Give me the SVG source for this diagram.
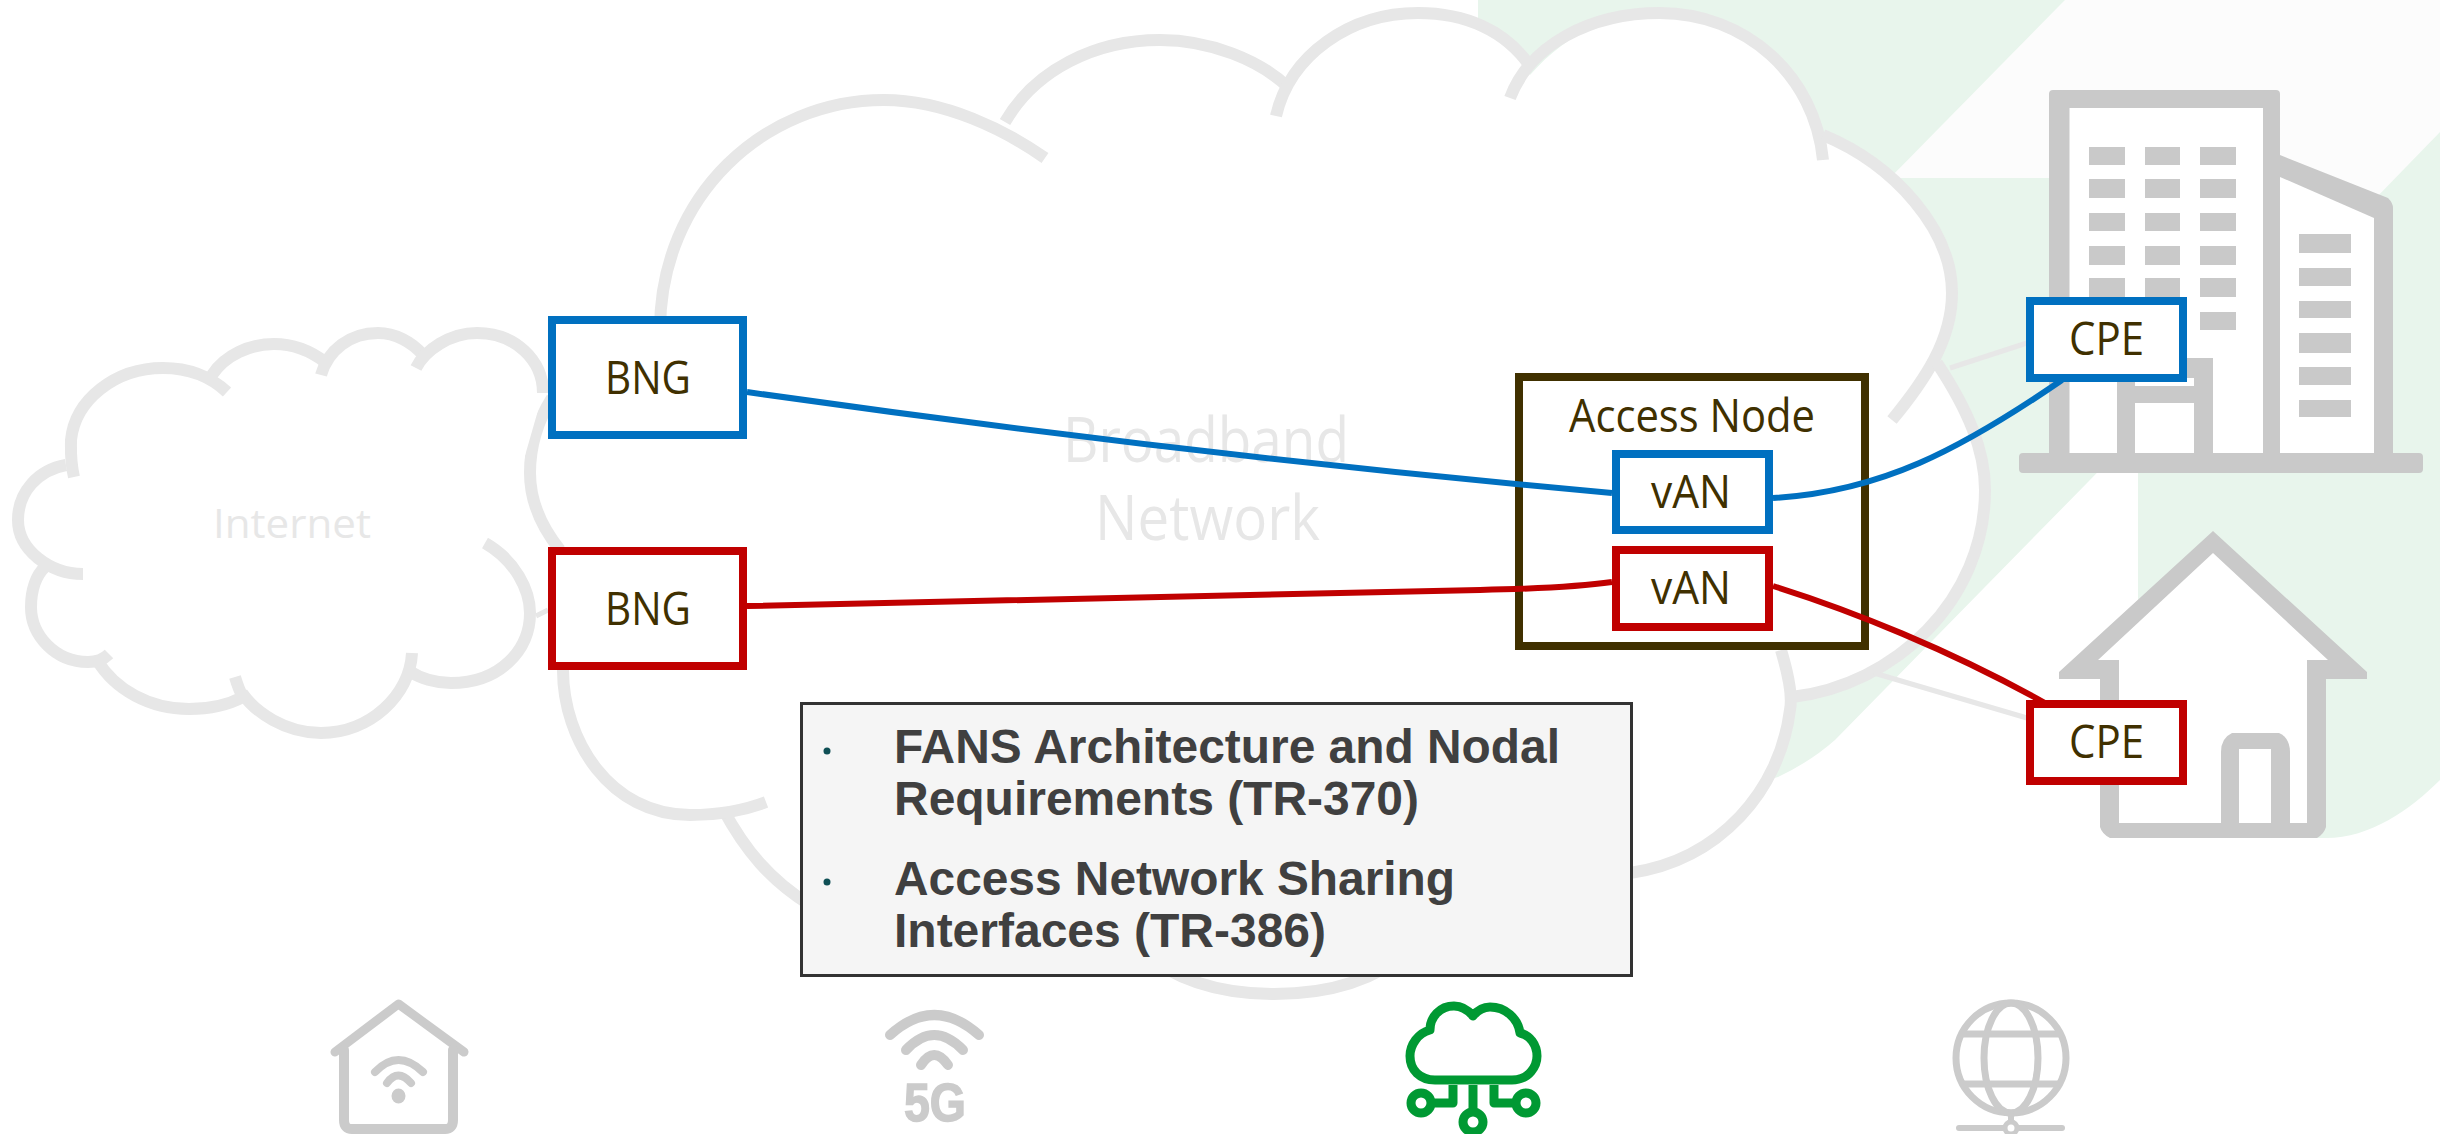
<svg xmlns="http://www.w3.org/2000/svg" width="2440" height="1134" viewBox="0 0 2440 1134">
<style>
.cl{fill:none;stroke:#e7e7e7;stroke-width:12}
.wf{fill:#fff;stroke:none}
.g{fill:#c9c9c9}
.ic{fill:none;stroke:#cbcbcb;stroke-linecap:round;stroke-linejoin:round}
.gn{fill:none;stroke:#009933;stroke-width:9;stroke-linejoin:round}
.lb{font-family:"Open Sans","Noto Sans",sans-serif;fill:#403000;font-size:45px}
.ft{font-family:"Open Sans","Noto Sans",sans-serif;fill:#e7e7e7}
.bl{fill:#fff;stroke:#0070c0;stroke-width:8}
.rd{fill:#fff;stroke:#c00000;stroke-width:8}
.cb{fill:none;stroke:#0070c0;stroke-width:6}
.cr{fill:none;stroke:#c00000;stroke-width:6}
.cg{fill:none;stroke:#e7e7e7;stroke-width:5}
.tx{font-family:"Liberation Sans",Arial,sans-serif;font-weight:bold;font-size:48px;fill:#404040}
</style>
<rect width="2440" height="1134" fill="#fff"/>
<g id="background">
<polygon points="2065,0 2440,0 2440,132 2300,280 1890,178" fill="#fcfcfc"/>
<path d="M1478 0H2065L1890 178H2300L2138 431L1835 740Q1810 762 1778 777L1700 800L1478 300Z" fill="#e8f5ec"/>
<path d="M2138 443L2440 132V780C2410 810 2370 838 2326 838H2138Z" fill="#e8f5ec"/>
</g>
<g id="building">
<path d="M2049 94Q2049 90 2053 90H2276Q2280 90 2280 94V155L2388 198Q2393 203 2393 208V453H2419Q2423 453 2423 457V469Q2423 473 2419 473H2023Q2019 473 2019 469V457Q2019 453 2023 453H2049Z" class="g"/>
<path d="M2069.500 108H2263V453H2069.500Z" class="wf"/>
<path d="M2280 177L2374 218V453H2280Z" class="wf"/>
<g class="g">
<rect x="2089" y="147" width="36" height="18"/><rect x="2145" y="147" width="35" height="18"/><rect x="2200" y="147" width="36" height="18"/>
<rect x="2089" y="179" width="36" height="19"/><rect x="2145" y="179" width="35" height="19"/><rect x="2200" y="179" width="36" height="19"/>
<rect x="2089" y="213" width="36" height="18"/><rect x="2145" y="213" width="35" height="18"/><rect x="2200" y="213" width="36" height="18"/>
<rect x="2089" y="246" width="36" height="19"/><rect x="2145" y="246" width="35" height="19"/><rect x="2200" y="246" width="36" height="19"/>
<rect x="2089" y="278" width="36" height="19"/><rect x="2145" y="278" width="35" height="19"/><rect x="2200" y="278" width="36" height="19"/>
<rect x="2200" y="312" width="36" height="18"/>
<rect x="2299" y="234" width="52" height="19"/><rect x="2299" y="268" width="52" height="18"/><rect x="2299" y="301" width="52" height="17"/><rect x="2299" y="333" width="52" height="20"/><rect x="2299" y="367" width="52" height="18"/><rect x="2299" y="400" width="52" height="17"/>
<rect x="2117" y="358" width="96" height="95"/>
</g>
<rect x="2135" y="378" width="59" height="8" class="wf"/>
<rect x="2135" y="403" width="59" height="50" class="wf"/>
</g>
<g id="house">
<path d="M2213 531L2367 672V679H2326V827Q2324 834 2317 838H2110Q2102 834 2100 827V679H2059V672Z" class="g"/>
<path d="M2213 553L2328 660H2307V823H2119V660H2098Z" class="wf"/>
<path d="M2221 823V752Q2221 738 2232 733H2279Q2290 738 2290 752V823Z" class="g"/>
<path d="M2239 823V749H2271V823Z" class="wf"/>
</g>
<g id="broadband-cloud">
<path class="wf" d="M660 316C660 190 760 100 884 100C930 100 975 110 1010 130C1040 70 1100 40 1160 40C1210 40 1255 60 1285 90C1310 40 1370 13 1418 13C1465 13 1510 40 1530 75C1570 30 1615 12 1660 12C1740 12 1805 70 1823 135C1895 165 1952 230 1952 293C1952 320 1945 345 1937 363C1970 410 1985 450 1985 490C1985 600 1900 680 1792 697C1780 800 1720 860 1635 873L1380 978C1350 995 1310 994 1274 994C1240 994 1200 995 1169 978L800 897L723 809L690 815C610 815 563 740 563 670L560 550C540 525 530 500 530 473C530 430 560 390 600 360Z"/>
<path class="cl" d="M660 330C660 195 765 100 884 100C945 100 1005 130 1045 158"/>
<path class="cl" d="M1005 122C1035 70 1095 40 1160 40C1210 40 1260 60 1289 88"/>
<path class="cl" d="M1276 116C1290 55 1350 13 1418 13C1465 13 1505 30 1530 66"/>
<path class="cl" d="M1510 98C1530 45 1590 13 1660 13C1745 13 1815 75 1823 160"/>
<path class="cl" d="M1823 135C1895 165 1952 230 1952 293C1952 340 1925 380 1892 420"/>
<path class="cl" d="M1937 363C1968 410 1985 450 1985 490C1985 600 1895 685 1792 697"/>
<path class="cl" d="M1781 650C1790 680 1792 700 1790 710C1780 790 1720 860 1630 873"/>
<path class="cl" d="M1140 950C1180 985 1230 994 1274 994C1320 994 1370 985 1410 950"/>
<path class="cl" d="M723 809C745 850 770 880 810 905"/>
<path class="cl" d="M563 670C563 740 610 815 690 815C720 815 745 810 766 802"/>
<path class="cl" d="M552 398C535 425 530 450 530 473C530 500 540 525 560 550"/>
<text class="ft" x="1063" y="462" font-size="62" textLength="286" lengthAdjust="spacingAndGlyphs">Broadband</text>
<text class="ft" x="1095" y="540" font-size="62" textLength="225" lengthAdjust="spacingAndGlyphs">Network</text>
</g>
<g id="internet-cloud">
<path class="wf" d="M71 440C75 400 115 368 163 368C190 368 205 370 212 375C225 355 250 344 274 344C295 344 312 350 322 362C328 350 350 333 378 333C395 333 412 342 420 352C435 340 450 333 477 333C515 333 543 360 543 393L520 473L485 543C515 560 530 590 530 613C530 650 500 683 451 683C435 683 420 678 411 672C400 700 370 733 321 733C285 733 255 712 243 697C228 705 210 709 189 709C150 709 115 690 97 660C60 662 31 635 31 607C31 590 36 575 45 567C28 555 18 540 18 520C18 492 38 470 66 465Z"/>
<path class="cl" d="M74 477C70 460 71 450 71 440C75 400 115 368 163 368C190 368 212 378 227 392"/>
<path class="cl" d="M212 375C225 355 250 344 274 344C295 344 312 352 325 362"/>
<path class="cl" d="M321 375C328 350 350 333 378 333C395 333 412 342 423 355"/>
<path class="cl" d="M416 368C425 350 450 333 477 333C515 333 543 360 543 393"/>
<path class="cl" d="M485 543C515 560 530 590 530 613C530 650 500 683 451 683C435 683 420 678 411 672"/>
<path class="cl" d="M412 653C410 695 370 733 321 733C285 733 255 712 242 693"/>
<path class="cl" d="M235 677C238 687 240 692 243 697C228 705 210 709 189 709C150 709 115 690 97 660"/>
<path class="cl" d="M109 654C103 660 96 662 88 662C55 662 31 635 31 607C31 590 36 575 45 567"/>
<path class="cl" d="M83 574C50 574 18 550 18 520C18 492 38 470 66 465"/>
<text class="ft" x="213" y="538" font-size="41" textLength="158" lengthAdjust="spacingAndGlyphs">Internet</text>
</g>
<g id="access-node">
<rect x="1519" y="377" width="346" height="269" fill="#fff" stroke="#403000" stroke-width="8"/>
<text class="lb" x="1569" y="432" textLength="246" lengthAdjust="spacingAndGlyphs">Access Node</text>
</g>
<g id="connectors">
<path class="cg" d="M1950 368L2027 343"/>
<path class="cg" d="M1874 673L2027 718"/>
<path class="cg" d="M536 616L548 610"/>
<path class="cb" d="M747 392C1000 428 1300 465 1612 493"/>
<path class="cb" d="M1773 498C1880 492 1960 450 2062 380"/>
<path class="cr" d="M747 606L1480 590Q1570 588 1612 582"/>
<path class="cr" d="M1773 586C1850 610 1950 650 2045 703"/>
</g>
<g id="bng-blue"><rect class="bl" x="552" y="320" width="191" height="115"/><text class="lb" x="605" y="394" textLength="86" lengthAdjust="spacingAndGlyphs">BNG</text></g>
<g id="bng-red"><rect class="rd" x="552" y="551" width="191" height="115"/><text class="lb" x="605" y="625" textLength="86" lengthAdjust="spacingAndGlyphs">BNG</text></g>
<g id="van-blue"><rect class="bl" x="1616" y="454" width="153" height="76"/><text class="lb" x="1651" y="508" textLength="80" lengthAdjust="spacingAndGlyphs">vAN</text></g>
<g id="van-red"><rect class="rd" x="1616" y="550" width="153" height="77"/><text class="lb" x="1651" y="604" textLength="80" lengthAdjust="spacingAndGlyphs">vAN</text></g>
<g id="cpe-blue"><rect class="bl" x="2030" y="301" width="153" height="77"/><text class="lb" x="2069" y="355" textLength="75" lengthAdjust="spacingAndGlyphs">CPE</text></g>
<g id="cpe-red"><rect class="rd" x="2030" y="704" width="153" height="77"/><text class="lb" x="2069" y="758" textLength="75" lengthAdjust="spacingAndGlyphs">CPE</text></g>
<g id="info-box">
<rect x="801.500" y="703.500" width="830" height="272" fill="#f5f5f5" stroke="#333" stroke-width="3"/>
<circle cx="827" cy="751" r="3.500" fill="#0f4f55"/>
<circle cx="827" cy="882" r="3.500" fill="#0f4f55"/>
<text class="tx" x="894" y="763" textLength="666" lengthAdjust="spacingAndGlyphs">FANS Architecture and Nodal</text>
<text class="tx" x="894" y="815" textLength="525" lengthAdjust="spacingAndGlyphs">Requirements (TR-370)</text>
<text class="tx" x="894" y="895" textLength="561" lengthAdjust="spacingAndGlyphs">Access Network Sharing</text>
<text class="tx" x="894" y="947" textLength="432" lengthAdjust="spacingAndGlyphs">Interfaces (TR-386)</text>
</g>
<g id="icon-home">
<path class="ic" stroke-width="9" d="M335 1052L398.500 1004L464 1052"/>
<path class="ic" stroke-width="10" d="M344 1050V1120Q344 1129 352 1129H445Q453 1129 453 1120V1050"/>
<path class="ic" stroke-width="8" d="M375 1072Q398 1048 423 1072"/>
<path class="ic" stroke-width="8" d="M387 1083Q398 1068 411 1083"/>
<ellipse cx="398.500" cy="1096" rx="7" ry="7.500" fill="#cbcbcb"/>
</g>
<g id="icon-5g">
<path class="ic" stroke-width="10" d="M890 1035Q934 995 979 1035"/>
<path class="ic" stroke-width="10" d="M906 1050Q934 1020 963 1050"/>
<path class="ic" stroke-width="10" d="M921 1065Q934 1045 948 1065"/>
<text x="904" y="1121" font-family="Liberation Sans,Arial,sans-serif" font-weight="bold" font-size="54" fill="#cbcbcb" stroke="#cbcbcb" stroke-width="1.500" textLength="62" lengthAdjust="spacingAndGlyphs">5G</text>
</g>
<g id="icon-cloud">
<path class="gn" d="M1435 1080H1512C1530 1080 1537 1065 1537 1056C1537 1045 1530 1035 1520 1033C1518 1018 1505 1007 1490 1007C1483 1007 1477 1011 1473 1016C1468 1010 1462 1006 1454 1006C1440 1006 1430 1017 1430 1030C1418 1033 1410 1045 1410 1056C1410 1070 1420 1080 1435 1080Z"/>
<path class="gn" d="M1453 1085V1103H1432"/>
<path class="gn" d="M1473 1085V1110"/>
<path class="gn" d="M1494 1085V1103H1515"/>
<circle class="gn" cx="1421" cy="1103" r="10"/>
<circle class="gn" cx="1473" cy="1122" r="10"/>
<circle class="gn" cx="1526" cy="1103" r="10"/>
</g>
<g id="icon-globe">
<ellipse class="ic" stroke-width="7" cx="2011" cy="1058" rx="55" ry="55"/>
<ellipse class="ic" stroke-width="7" cx="2011" cy="1058" rx="27" ry="55"/>
<path class="ic" stroke-width="7" d="M1964 1034H2058M1964 1084H2058"/>
<path class="ic" stroke-width="6" d="M2011 1114V1124M1959 1128H2062"/>
<circle cx="2011" cy="1128" r="6" fill="#fff" stroke="#cbcbcb" stroke-width="5"/>
</g>
</svg>
